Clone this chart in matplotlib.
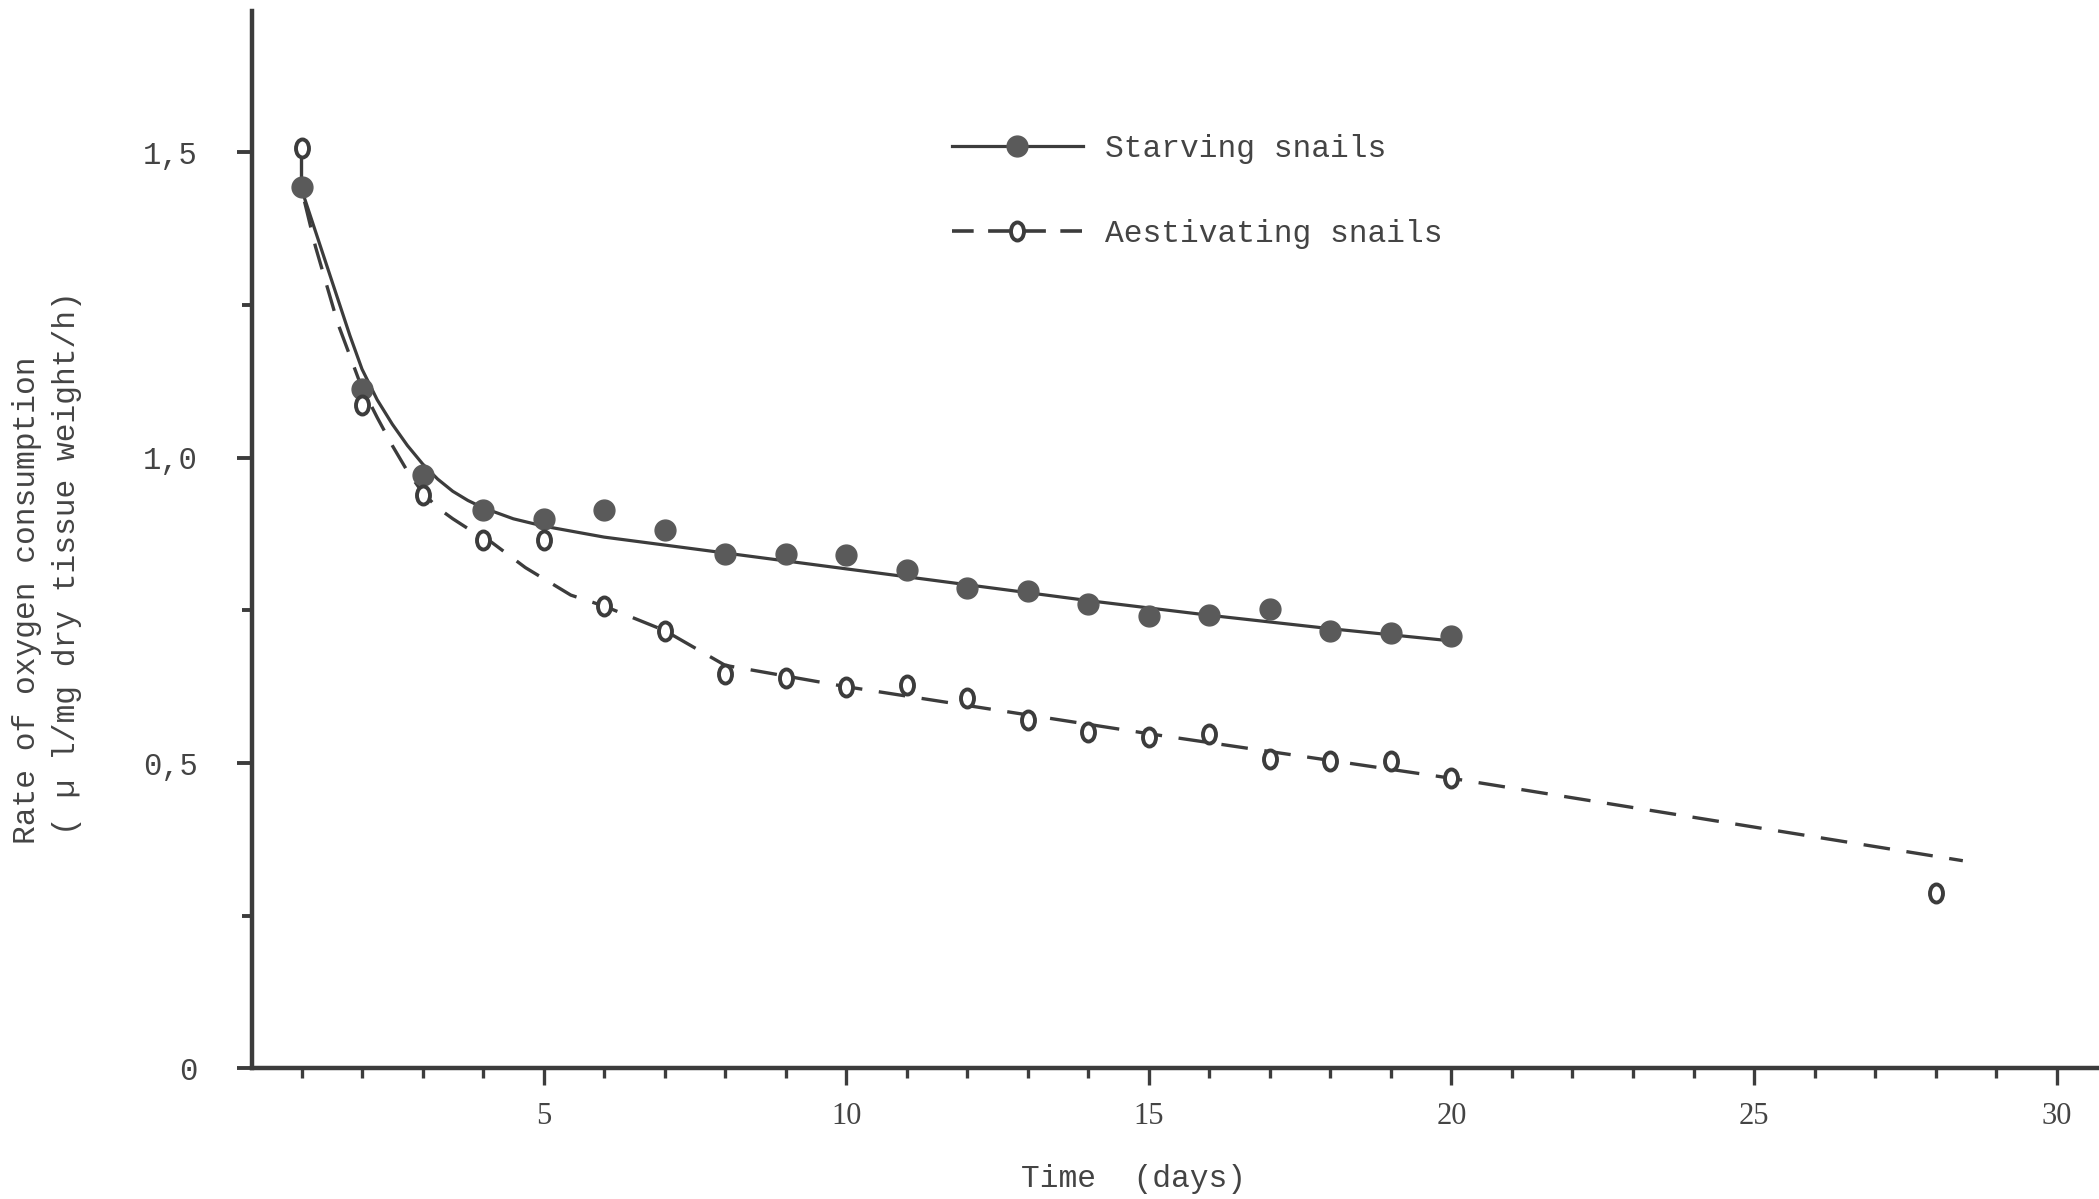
import matplotlib
matplotlib.use('Agg')
import matplotlib.pyplot as plt
from matplotlib.path import Path
from matplotlib.transforms import Affine2D
from matplotlib.lines import Line2D

# measured points (days, rate)
starv_days = list(range(1, 21))
starv_rate = [1.443, 1.112, 0.971, 0.914, 0.899, 0.914, 0.882, 0.842, 0.842, 0.840,
              0.816, 0.787, 0.781, 0.761, 0.741, 0.743, 0.752, 0.717, 0.713, 0.708]

aest_days = list(range(1, 21)) + [28]
aest_rate = [1.507, 1.086, 0.939, 0.866, 0.866, 0.757, 0.717, 0.645, 0.640, 0.625,
             0.627, 0.607, 0.570, 0.550, 0.542, 0.548, 0.507, 0.504, 0.504, 0.476, 0.287]

# hand drawn fitted curves
starv_fit_x = [1.0, 1.5, 1.8, 2.0, 2.25, 2.5, 2.75, 3.0, 3.25, 3.5, 3.75, 4.0, 4.5, 5.0, 6.0,
               7.0, 8.0, 10, 12, 14, 16, 18, 20]
starv_fit_y = [1.44, 1.29, 1.20, 1.145, 1.095, 1.055, 1.02, 0.99, 0.965, 0.945, 0.93, 0.918,
               0.900, 0.888, 0.870, 0.857, 0.844, 0.818, 0.792, 0.766, 0.742, 0.720, 0.700]

aest_fit_x = [1.0, 1.0, 1.23, 1.6, 1.98, 2.25, 2.5, 2.75, 3.0, 3.25, 3.5, 3.75, 4.0, 4.7, 5.45,
              6.0, 7.0, 8.0, 10, 15, 20, 28.45]
aest_fit_y = [1.49, 1.44, 1.346, 1.22, 1.119, 1.066, 1.02, 0.978, 0.943, 0.918, 0.90, 0.884,
              0.872, 0.82, 0.775, 0.757, 0.717, 0.66, 0.625, 0.548, 0.475, 0.34]

y_ticks = [0, 0.5, 1.0, 1.5]
y_ticklabels = ['0', '0,5', '1,0', '1,5']
x_ticks = [5, 10, 15, 20, 25, 30]

ink = '#3c3c3c'
dot = '#5a5a5a'
txt = '#444444'
mono = 'Liberation Mono'

# typewriter "o" is a bit taller than wide
oval = Path.unit_circle().transformed(Affine2D().scale(0.72, 1.0))

fig = plt.figure(figsize=(20.99, 11.99), dpi=100)
ax = fig.add_axes([0.120, 0.109, 0.880, 0.882])

ax.plot(starv_fit_x, starv_fit_y, color=ink, lw=2.3, solid_capstyle='round', solid_joinstyle='round')
ax.plot(aest_fit_x, aest_fit_y, color=ink, lw=2.4, dashes=(8, 5))

ax.plot(starv_days, starv_rate, 'o', color=dot, markersize=15, markeredgecolor=dot)
ax.plot(aest_days, aest_rate, linestyle='none', marker=oval, markersize=13,
        markerfacecolor='white', markeredgecolor=ink, markeredgewidth=2.8)

ax.set_xlim(0.18, 30.7)
ax.set_ylim(0, 1.732)

for s in ['top', 'right']:
    ax.spines[s].set_visible(False)
for s in ['left', 'bottom']:
    ax.spines[s].set_color(ink)
    ax.spines[s].set_linewidth(3.2)

ax.set_yticks(y_ticks)
ax.set_yticklabels(y_ticklabels, fontfamily=mono, fontsize=22, color=txt)
ax.set_yticks([0.25, 0.75, 1.25], minor=True)
ax.set_xticks(x_ticks)
ax.set_xticklabels([str(v) for v in x_ticks], fontfamily='Liberation Serif', fontsize=22, color=txt)
ax.set_xticks([d for d in range(1, 31) if d % 5 != 0], minor=True)

ax.tick_params(axis='y', which='major', length=11, width=2.8, color=ink, pad=28)
ax.tick_params(axis='y', which='minor', length=7, width=2.8, color=ink)
ax.tick_params(axis='x', which='major', length=12, width=2.4, color=ink, pad=12)
ax.tick_params(axis='x', which='minor', length=7, width=2.4, color=ink)

fig.text(0.540, 0.004, 'Time  (days)', ha='center', va='bottom', fontfamily=mono,
         fontsize=22.5, color=txt)
fig.text(0.013, 0.499, 'Rate of oxygen consumption', rotation=90, ha='center', va='center',
         fontfamily=mono, fontsize=22.5, color=txt)
fig.text(0.032, 0.530, '( \u00b5 l/mg dry tissue weight/h)', rotation=90, ha='center', va='center',
         fontfamily=mono, fontsize=22.5, color=txt)

handles = [
    Line2D([], [], color=ink, lw=2.3, marker='o', markersize=15, markerfacecolor=dot, markeredgecolor=dot),
    Line2D([], [], color=ink, lw=2.6, dashes=(6, 4), marker=oval, markersize=13,
           markerfacecolor='white', markeredgecolor=ink, markeredgewidth=2.8),
]
leg = fig.legend(handles, ['Starving snails', 'Aestivating snails'], loc='upper left',
                 bbox_to_anchor=(0.446, 0.901), frameon=False, handlelength=4.2,
                 handletextpad=0.7, labelspacing=1.75, borderpad=0, numpoints=1,
                 prop={'family': mono, 'size': 22.5})
for t in leg.get_texts():
    t.set_color(txt)

fig.savefig('out.png', dpi=100)
